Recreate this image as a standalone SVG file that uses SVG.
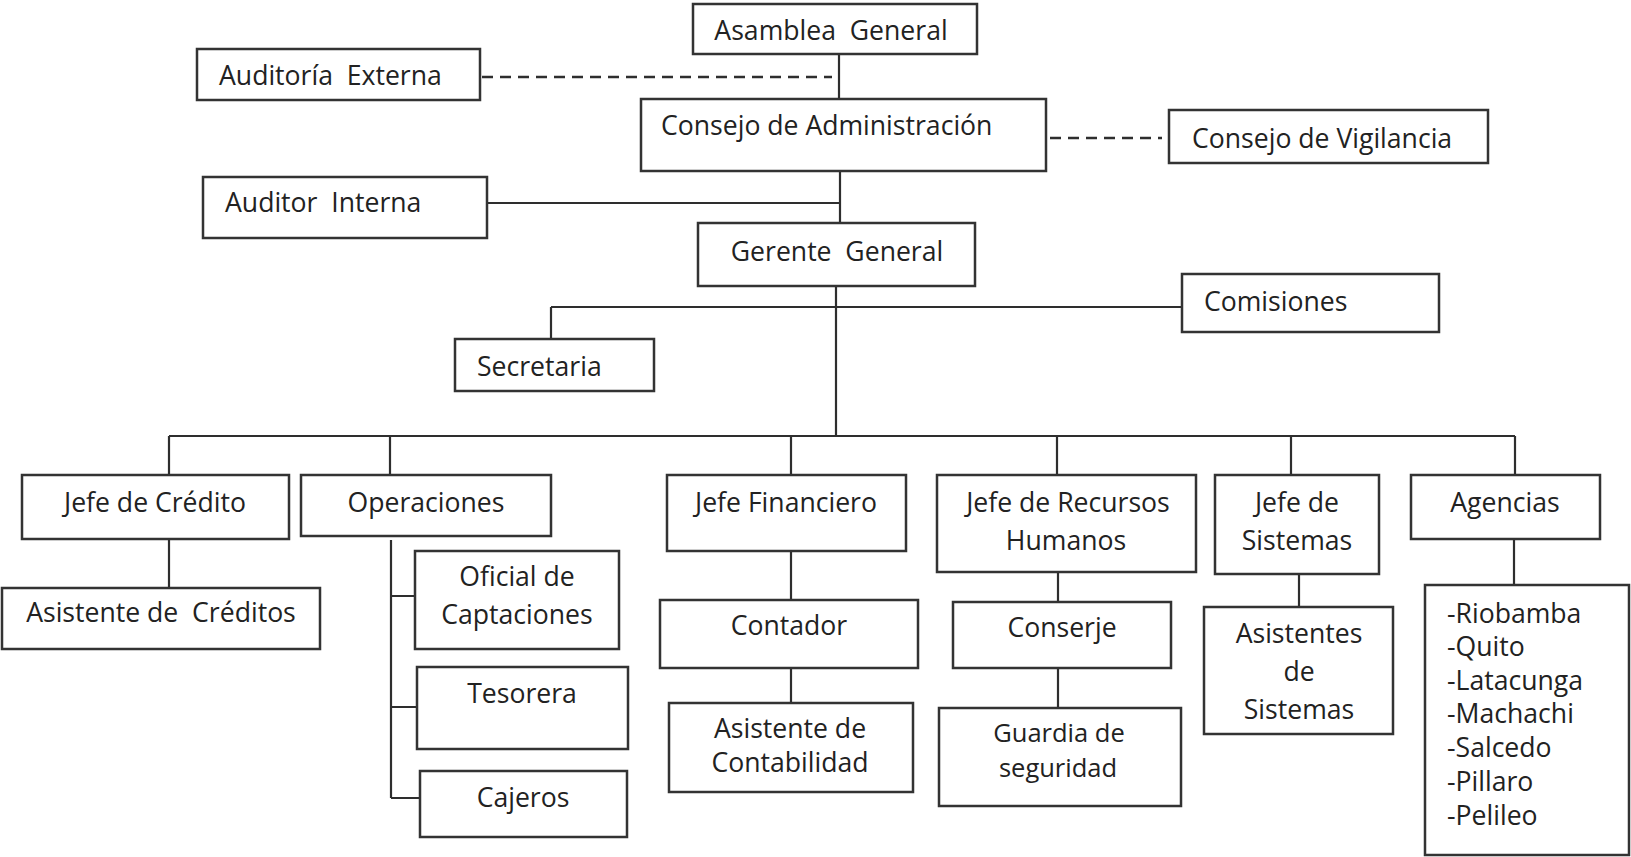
<svg xmlns="http://www.w3.org/2000/svg" width="1631" height="857" viewBox="0 0 1631 857">
<style>
.b{fill:#fff;stroke:#333;stroke-width:2.5}
.t{font-family:"Open Sans","Liberation Sans",sans-serif;font-size:26.6px;fill:#222;white-space:pre}
.s{font-size:25.5px}
.m{text-anchor:middle}
.l{fill:none;stroke:#2e2e2e;stroke-width:2.2}
.d{fill:none;stroke:#2e2e2e;stroke-width:2.5;stroke-dasharray:11 7}
</style>
<rect width="1631" height="857" fill="#fff"/>
<g id="connectors">
<path class="d" d="M482 77H832"/>
<path class="d" d="M1050 138H1162"/>
<path class="l" d="M839 54V99"/>
<path class="l" d="M840 171V223M487 203H840"/>
<path class="l" d="M836 286V436M551 307H1182M551 307V339"/>
<path class="l" d="M169 436H1515M169 436V475M390 436V475M791 436V475M1057 436V475M1291 436V475M1515 436V475"/>
<path class="l" d="M169 539V588"/>
<path class="l" d="M391 540V798M391 596H415M391 707H417M391 798H420"/>
<path class="l" d="M791 551V600M791 668V703"/>
<path class="l" d="M1058 572V602M1058 668V708"/>
<path class="l" d="M1299 574V607"/>
<path class="l" d="M1514 539V585"/>
</g>
<g id="asamblea"><rect class="b" x="693" y="4" width="284" height="50"/><text class="t m" x="831" y="40">Asamblea  General</text></g>
<g id="auditoria-externa"><rect class="b" x="197" y="49" width="283" height="51"/><text class="t" x="219" y="85">Auditoría  Externa</text></g>
<g id="consejo-admin"><rect class="b" x="641" y="99" width="405" height="72"/><text class="t" x="661" y="135">Consejo de Administración</text></g>
<g id="consejo-vigilancia"><rect class="b" x="1169" y="110" width="319" height="53"/><text class="t" x="1192" y="148">Consejo de Vigilancia</text></g>
<g id="auditor-interna"><rect class="b" x="203" y="177" width="284" height="61"/><text class="t" x="225" y="212">Auditor  Interna</text></g>
<g id="gerente"><rect class="b" x="698" y="223" width="277" height="63"/><text class="t m" x="837" y="261">Gerente  General</text></g>
<g id="comisiones"><rect class="b" x="1182" y="274" width="257" height="58"/><text class="t" x="1204" y="311">Comisiones</text></g>
<g id="secretaria"><rect class="b" x="455" y="339" width="199" height="52"/><text class="t" x="477" y="376">Secretaria</text></g>
<g id="jefe-credito"><rect class="b" x="22" y="475" width="267" height="64"/><text class="t m" x="155" y="512">Jefe de Crédito</text></g>
<g id="asistente-creditos"><rect class="b" x="2" y="588" width="318" height="61"/><text class="t m" x="161" y="622">Asistente de  Créditos</text></g>
<g id="operaciones"><rect class="b" x="301" y="475" width="250" height="61"/><text class="t m" x="426" y="512">Operaciones</text></g>
<g id="oficial-captaciones"><rect class="b" x="415" y="551" width="204" height="98"/><text class="t m" x="517" y="586">Oficial de</text><text class="t m" x="517" y="624">Captaciones</text></g>
<g id="tesorera"><rect class="b" x="417" y="667" width="211" height="82"/><text class="t m" x="522" y="703">Tesorera</text></g>
<g id="cajeros"><rect class="b" x="420" y="771" width="207" height="66"/><text class="t m" x="523" y="807">Cajeros</text></g>
<g id="jefe-financiero"><rect class="b" x="667" y="475" width="239" height="76"/><text class="t m" x="786" y="512">Jefe Financiero</text></g>
<g id="contador"><rect class="b" x="660" y="600" width="258" height="68"/><text class="t m" x="789" y="635">Contador</text></g>
<g id="asistente-contabilidad"><rect class="b" x="669" y="703" width="244" height="89"/><text class="t m" x="790" y="738">Asistente de</text><text class="t m" x="790" y="772">Contabilidad</text></g>
<g id="jefe-rrhh"><rect class="b" x="937" y="475" width="259" height="97"/><text class="t m" x="1068" y="512">Jefe de Recursos</text><text class="t m" x="1066" y="550">Humanos</text></g>
<g id="conserje"><rect class="b" x="953" y="602" width="218" height="66"/><text class="t m" x="1062" y="637">Conserje</text></g>
<g id="guardia"><rect class="b" x="939" y="708" width="242" height="98"/><text class="t s m" x="1059" y="742">Guardia de</text><text class="t s m" x="1058" y="777">seguridad</text></g>
<g id="jefe-sistemas"><rect class="b" x="1215" y="475" width="164" height="99"/><text class="t m" x="1297" y="512">Jefe de</text><text class="t m" x="1297" y="550">Sistemas</text></g>
<g id="asistentes-sistemas"><rect class="b" x="1204" y="607" width="189" height="127"/><text class="t m" x="1299" y="643">Asistentes</text><text class="t m" x="1299" y="681">de</text><text class="t m" x="1299" y="719">Sistemas</text></g>
<g id="agencias"><rect class="b" x="1411" y="475" width="189" height="64"/><text class="t m" x="1505" y="512">Agencias</text></g>
<g id="agencias-lista"><rect class="b" x="1425" y="585" width="204" height="270"/>
<text class="t" x="1447" y="623">-Riobamba</text>
<text class="t" x="1447" y="656">-Quito</text>
<text class="t" x="1447" y="690">-Latacunga</text>
<text class="t" x="1447" y="723">-Machachi</text>
<text class="t" x="1447" y="757">-Salcedo</text>
<text class="t" x="1447" y="791">-Pillaro</text>
<text class="t" x="1447" y="825">-Pelileo</text>
</g>
</svg>
